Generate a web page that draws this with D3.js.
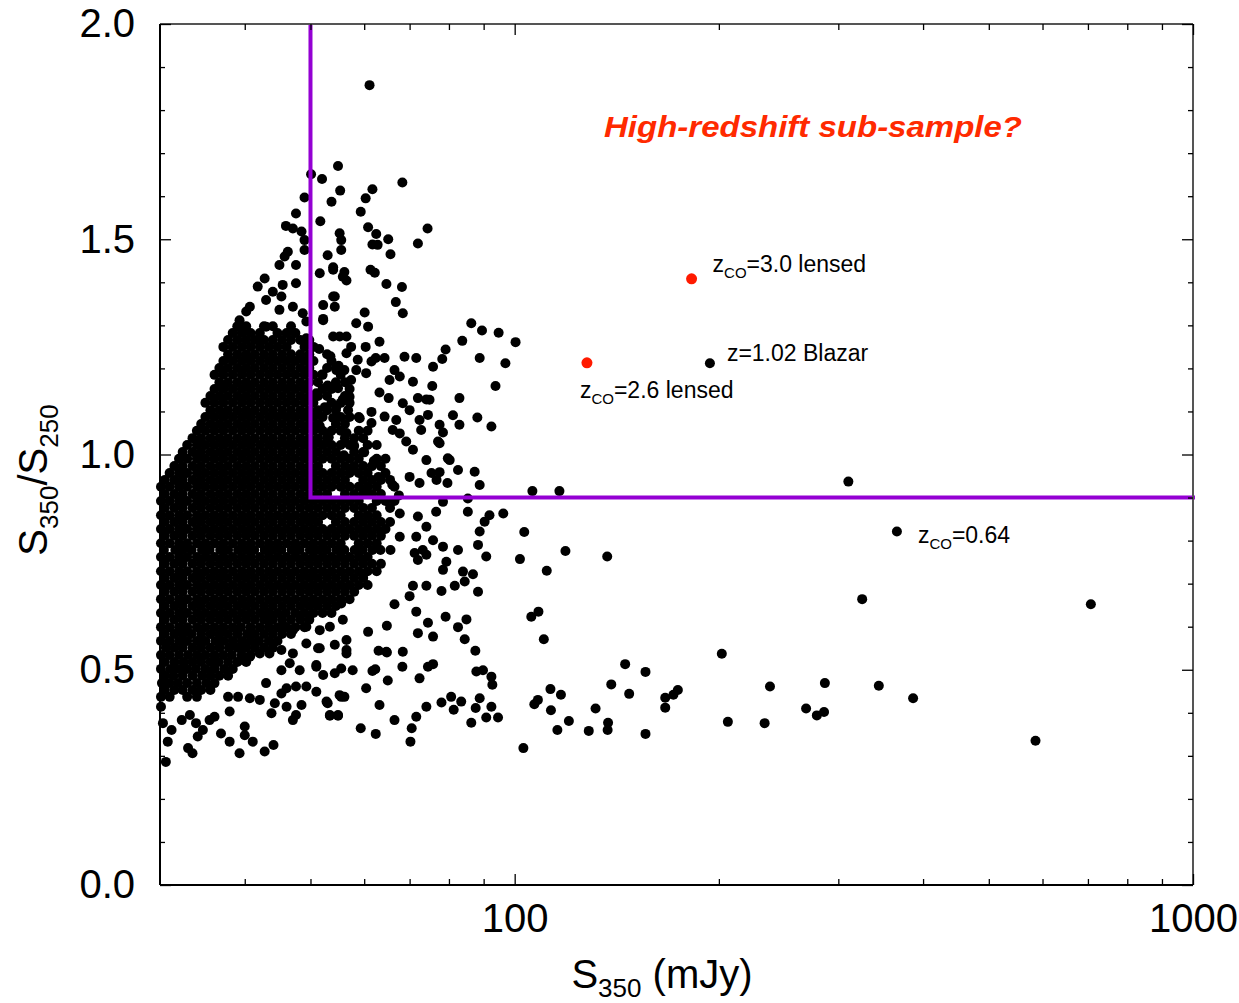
<!DOCTYPE html>
<html>
<head>
<meta charset="utf-8">
<script src="https://cdn.jsdelivr.net/npm/d3@7"></script>
<style>
  html, body { margin: 0; padding: 0; background: #fff; }
  svg { display: block; }
  text { font-family: "Liberation Sans", Arial, Helvetica, sans-serif; }
</style>
</head>
<body>
<svg id="chart" width="1239" height="1003"></svg>
<script>
// ---- axis ranges and ticks ----
const fluxDomain = [30, 1000];
const ratioDomain = [0, 2];
const fluxMajorTicks = [100, 1000];
const fluxMinorTicks = [40, 50, 60, 70, 80, 90, 200, 300, 400, 500, 600, 700, 800, 900];
const ratioMajorTicks = [0, 0.5, 1.0, 1.5, 2.0];
const ratioMinorTicks = [0.1, 0.2, 0.3, 0.4, 0.6, 0.7, 0.8, 0.9, 1.1, 1.2, 1.3, 1.4, 1.6, 1.7, 1.8, 1.9];

// ---- selection box for the red sub-sample ----
const cutFlux = 50;    // S350 > 50 mJy
const cutRatio = 0.9;  // S350/S250 > 0.9

// ---- faint population: S350 values (mJy) grouped by S350/S250 ----
const coreRows = [
  [0.437, [30.1,31.0,32.9,34.0]],
  [0.453, [30.5,31.5,32.4,33.5,34.5,35.6]],
  [0.469, [30.2,31.0,31.9,32.9,34.0,35.1,36.1]],
  [0.486, [30.5,31.4,32.4,33.5,34.6,35.6,36.7,37.8]],
  [0.502, [30.1,31.1,32.0,32.9,33.9,35.0,36.1,37.3,38.4]],
  [0.518, [30.5,31.5,32.5,33.5,34.5,35.6,36.6,37.8,39.0,40.2]],
  [0.534, [30.1,31.0,32.0,33.0,34.0,35.0,36.1,37.2,38.3,39.6,40.8]],
  [0.551, [30.6,31.5,32.4,33.5,34.5,35.6,36.7,37.9,39.0,40.2,41.4,42.7,44.0]],
  [0.567, [30.1,31.0,32.0,32.9,34.0,35.0,36.2,37.2,38.4,39.6,40.8,42.0,43.4,44.7]],
  [0.583, [30.5,31.5,32.4,33.4,34.5,35.6,36.7,37.8,39.0,40.3,41.4,42.7,44.0,45.4,46.8]],
  [0.599, [30.1,31.0,32.0,32.9,34.0,35.0,36.1,37.2,38.4,39.5,40.8,42.1,43.4,44.7,46.1,47.5,49.0]],
  [0.616, [30.5,31.5,32.4,33.5,34.5,35.6,36.7,37.8,39.0,40.2,41.4,42.7,44.0,45.4,46.8,48.3,49.8]],
  [0.632, [30.1,31.0,32.0,32.9,34.0,35.0,36.1,37.2,38.4,39.6,40.8,42.1,43.4,44.7,46.0,47.5,49.0,50.5,52.1,53.7]],
  [0.648, [30.5,31.5,32.4,33.5,34.5,35.6,36.7,37.8,39.0,40.2,41.4,42.7,44.0,45.4,46.8,48.3,49.8,51.3,52.9,54.5]],
  [0.664, [30.1,31.0,32.0,32.9,34.0,35.0,36.1,37.2,38.4,39.6,40.8,42.1,43.4,44.7,46.1,47.5,49.0,50.5,52.1,53.7,55.4,57.1]],
  [0.681, [30.5,31.5,32.4,33.5,34.5,35.6,36.7,37.8,39.0,40.2,41.4,42.7,44.0,45.4,46.8,48.3,49.8,51.3,52.9,54.5,56.2,58.0]],
  [0.697, [30.1,31.0,32.0,32.9,34.0,35.0,36.1,37.2,38.4,39.6,40.8,42.1,43.4,44.7,46.1,47.5,49.0,50.5,52.1,53.7,55.4,57.1,58.9,60.7]],
  [0.713, [30.5,31.5,32.4,33.5,34.5,35.6,36.7,37.8,39.0,40.2,41.4,42.7,44.0,45.4,46.8,48.3,49.8,51.3,52.9,54.5,56.2,58.0,59.8]],
  [0.729, [30.1,31.0,32.0,32.9,34.0,35.0,36.1,37.2,38.4,39.6,40.8,42.1,43.4,44.7,46.1,47.5,49.0,50.5,52.1,53.7,55.4,57.1,58.9,60.7,62.6]],
  [0.746, [30.5,31.5,32.4,33.5,34.5,35.6,36.7,37.8,39.0,40.2,41.4,42.7,44.0,45.4,46.8,48.3,49.8,51.3,52.9,54.5,56.2,58.0,59.8,61.6,63.5]],
  [0.762, [30.1,31.0,32.0,32.9,34.0,35.0,36.1,37.2,38.4,39.6,40.8,42.1,43.4,44.7,46.1,47.5,49.0,50.5,52.1,53.7,55.4,57.1,58.9,60.7]],
  [0.778, [30.4,31.6,32.4,33.4,34.6,35.5,36.8,37.8,39.1,40.2,41.3,42.8,44.0,45.3,46.9,48.2,49.9,51.3,52.8,54.6,56.1,58.1,59.7,61.7,63.4,65.6]],
  [0.794, [30.1,31.0,32.0,32.9,34.0,35.0,36.1,37.2,38.4,39.6,40.8,42.1,43.4,44.7,46.1,47.5,49.0,50.5,52.1,53.7,55.4,58.9,60.7,62.6]],
  [0.811, [30.5,31.5,32.4,33.5,34.5,35.6,36.7,37.8,39.0,40.2,41.4,42.7,44.0,45.4,46.8,48.3,49.8,51.3,52.9,54.5,56.2,58.0,59.8,61.6,63.5]],
  [0.827, [30.1,31.0,32.0,32.9,34.0,35.0,36.1,37.2,38.4,39.6,40.8,42.1,43.4,44.7,46.1,47.5,49.0,50.5,52.1,53.7,55.4,57.1,58.9,60.7,62.6,64.5]],
  [0.843, [30.5,31.5,32.4,33.5,34.5,35.6,36.7,37.8,39.0,40.2,41.4,42.7,44.0,45.4,46.8,48.3,49.8,51.3,54.5,56.2,58.0,59.8,61.6,63.5,65.5]],
  [0.859, [30.1,31.0,32.0,32.9,34.0,35.0,36.1,37.2,38.4,39.6,40.8,42.1,43.4,44.7,46.1,47.5,49.0,50.5,52.1,53.7,55.4,58.9,60.7,62.6]],
  [0.876, [30.5,31.5,32.4,33.5,34.5,35.6,36.7,37.8,39.0,40.2,41.4,42.7,44.0,45.4,46.8,48.3,49.8,51.3,52.9,54.5,56.2,58.0,59.8,61.6,65.5]],
  [0.892, [30.1,31.0,32.0,32.9,34.0,35.0,36.1,37.2,38.4,39.6,40.8,42.1,43.4,44.7,46.1,47.5,49.0,50.5,52.1,53.7,55.4,57.1,58.9,62.6,64.5,66.5]],
  [0.908, [30.5,31.5,32.4,33.5,34.5,35.6,36.7,37.8,39.0,40.2,41.4,42.7,44.0,45.4,46.8,48.3,49.8,51.3,52.9,56.2,58.0,59.8,61.6,63.5]],
  [0.925, [30.1,31.0,32.0,32.9,34.0,35.0,36.1,37.2,38.4,39.6,40.8,42.1,43.4,44.7,46.1,47.5,49.0,50.5,52.1,53.7,55.4,57.1,58.9,60.7,62.6,66.5]],
  [0.941, [30.5,31.5,32.4,33.5,34.5,35.6,36.7,37.8,39.0,40.2,41.4,42.7,44.0,45.4,46.8,48.3,49.8,51.3,52.9,54.5,56.2,59.8,61.6,63.5,65.5]],
  [0.957, [31.0,32.0,32.9,34.0,35.0,36.1,37.2,38.4,39.6,40.8,42.1,43.4,44.7,46.1,47.5,49.0,50.5,52.1,53.7,55.4,57.1,58.9,60.7,64.5]],
  [0.973, [31.5,32.4,33.5,34.5,35.6,36.7,37.8,39.0,40.2,41.4,42.7,44.0,45.4,46.8,48.3,49.8,51.3,54.5,56.2,58.0,59.8,61.6,63.5]],
  [0.990, [32.0,32.9,34.0,35.0,36.1,37.2,38.4,39.6,40.8,42.1,43.4,44.7,46.1,47.5,49.0,50.5,52.1,53.7,55.4,57.1,58.9,62.6,64.5]],
  [1.006, [32.4,33.5,34.5,35.6,36.7,37.8,39.0,40.2,41.4,42.7,44.0,45.4,46.8,48.3,49.8,51.3,52.9,54.5,58.0,59.8]],
  [1.022, [32.9,34.0,35.0,36.1,37.2,38.4,39.6,40.8,42.1,43.4,44.7,46.1,47.5,49.0,50.5,52.1,53.7,55.4,57.1,60.7,62.6]],
  [1.038, [33.5,34.5,35.6,36.7,37.8,39.0,40.2,41.4,42.7,44.0,45.4,46.8,48.3,49.8,51.3,52.9,56.2,58.0,59.8]],
  [1.055, [34.0,35.0,36.1,37.2,38.4,39.6,40.8,42.1,43.4,44.7,46.1,47.5,49.0,50.5,52.1,53.7,55.4,58.9,60.7]],
  [1.071, [34.5,35.6,36.7,37.8,39.0,40.2,41.4,42.7,44.0,45.4,46.8,48.3,49.8,51.3,54.5,56.2]],
  [1.087, [35.0,36.1,37.2,38.4,39.6,40.8,42.1,43.4,44.7,46.1,47.5,49.0,50.5,52.1,55.4,57.1,58.9]],
  [1.103, [35.6,36.7,37.8,39.0,40.2,41.4,42.7,44.0,45.4,46.8,48.3,49.8,51.3,52.9,54.5]],
  [1.120, [35.0,36.1,37.2,38.4,39.6,40.8,42.1,43.4,44.7,46.1,47.5,49.0,50.5,53.7,55.4,57.1]],
  [1.136, [35.6,36.7,37.8,39.0,40.2,41.4,42.7,44.0,45.4,46.8,48.3,49.8,51.3,52.9,56.2]],
  [1.152, [36.1,37.2,38.4,39.6,40.8,42.1,43.4,44.7,46.1,47.5,49.0,52.1,53.7,57.1]],
  [1.168, [36.7,37.8,39.0,40.2,41.4,42.7,44.0,45.4,46.8,48.3,49.8,51.3,54.5,56.2]],
  [1.185, [36.1,37.2,38.4,39.6,40.8,42.1,43.4,44.7,46.1,47.5,49.0,50.5,52.1,55.4]],
  [1.201, [36.7,37.8,39.0,40.2,41.4,42.7,44.0,45.4,46.8,48.3,49.8,52.9,54.5]],
  [1.217, [37.2,38.4,39.6,40.8,42.1,43.4,44.7,46.1,47.5,49.0,50.5,53.7]],
  [1.233, [37.8,39.0,40.2,41.4,42.7,44.0,45.4,46.8,48.3,49.8,52.9]],
  [1.250, [37.2,38.4,39.6,40.8,42.1,43.4,44.7,46.1,49.0,50.5]],
  [1.266, [37.8,39.0,40.2,41.4,42.7,44.0,45.4,46.8,48.3,49.8]],
  [1.282, [38.4,39.6,40.8,42.1,44.7,46.1,47.5]],
  [1.298, [39.0,40.2,42.7,44.0,46.8]]
];

// ---- individual sources around the dense population: [S350 mJy, S350/S250] ----
const outskirtSources = [
  [61.1,1.858],
  [54.9,1.670],[50.1,1.651],[52.0,1.640],[55.3,1.613],[49.0,1.597],[53.7,1.587],[47.6,1.560],[51.7,1.542],
  [46.0,1.531],[47.1,1.525],[48.5,1.518],[49.0,1.498],[55.2,1.514],[55.5,1.475],[53.0,1.463],[46.3,1.471],
  [45.8,1.460],[45.0,1.440],[47.6,1.440],[49.0,1.475],[42.8,1.409],[41.8,1.390],[40.7,1.343],[40.2,1.332],
  [44.0,1.378],[45.5,1.394],[47.6,1.398],[51.6,1.421],[54.0,1.429],[55.8,1.413],[54.3,1.367],[52.2,1.347],
  [52.2,1.312],[45.3,1.367],[47.1,1.343],[48.7,1.328],[43.0,1.359],[45.0,1.336],[39.3,1.312],[39.7,1.289],
  [43.0,1.297],[42.1,1.266],[49.3,1.270],[56.5,1.274],[56.5,1.235],[49.3,1.309],
  [68.3,1.632],[61.7,1.616],[60.3,1.595],[59.3,1.564],[60.8,1.528],[62.5,1.512],[65.1,1.500],[74.4,1.525],
  [72.0,1.490],[55.5,1.498],[61.7,1.488],[62.8,1.487],[65.6,1.465],[54.0,1.435],[56.1,1.424],[56.5,1.404],
  [61.3,1.429],[62.2,1.422],[64.7,1.396],[68.2,1.389],[66.8,1.354],[68.4,1.328],[54.0,1.367],[54.3,1.343],
  [52.2,1.315],[60.1,1.330],[58.4,1.305],[60.8,1.297],[86.3,1.305],[89.5,1.288],[94.7,1.283],[100.3,1.261],
  [83.7,1.264],[79.1,1.244],[78.2,1.222],[88.8,1.224],[96.9,1.212],[93.7,1.159],[82.9,1.131],[88.1,1.086],
  [92.4,1.065],[81.1,1.091],[82.9,1.069],[75.8,1.204],[75.6,1.159],[71.6,1.224],[68.8,1.227],[63.2,1.262],
  [60.3,1.250],[55.2,1.274],[54.0,1.274],[66.5,1.196],[67.7,1.181],[64.3,1.224],[62.4,1.224],[70.8,1.169],
  [72.0,1.131],[74.1,1.128],[74.9,1.127],[74.5,1.092],[77.5,1.069],[78.4,1.051],[77.1,1.030],[79.7,0.991],
  [72.4,1.080],[72.8,1.057],[68.4,1.119],[70.0,1.103],[65.2,1.131],[63.2,1.144],[65.4,1.173],[64.3,1.088],
  [66.9,1.080],[66.1,1.057],[67.7,1.049],[69.2,1.030],[61.5,1.099],[61.5,1.073],[59.1,1.084],[56.8,1.103],
  [54.6,1.111],[57.1,1.134],[54.9,1.154],[57.4,1.173],[54.6,1.196],[56.1,1.196],[60.4,1.189],[58.4,1.196],
  [58.7,1.220],[61.5,1.216],[57.4,1.250],
  [51.5,1.245],[53.5,1.228],[55.0,1.206],[52.0,1.186],[53.0,1.160],[51.0,1.142],[55.8,1.128],[52.5,1.110],
  [54.0,1.085],[51.6,1.066],[56.5,1.050],[53.2,1.040],[58.0,1.020],[51.0,1.030],[56.0,0.998],[60.0,1.005],
  [62.0,0.985],[57.5,0.968],[63.0,0.948],[66.0,0.930],[60.0,0.912],[67.5,0.905],
  [77.5,1.026],[80.2,0.987],[82.5,0.964],[87.3,0.960],[88.8,0.929],[78.4,0.890],[85.3,0.898],[85.3,0.867],
  [91.8,0.859],[90.3,0.844],[88.8,0.821],[88.3,0.790],[78.4,0.786],[82.5,0.778],[90.8,0.763],[79.3,0.751],
  [78.4,0.732],[74.1,0.767],[72.0,0.755],[83.9,0.728],[86.8,0.722],[84.4,0.705],[81.6,0.695],[88.3,0.681],
  [78.0,0.683],[74.1,0.695],[70.8,0.695],[70.0,0.671],[66.5,0.652],[71.6,0.635],[79.1,0.623],[84.9,0.617],
  [82.5,0.599],[84.4,0.571],[87.5,0.544],[74.5,0.609],[72.0,0.585],[75.8,0.577],[64.8,0.602],[68.4,0.542],
  [64.7,0.542],[68.3,0.507],[72.4,0.480],[74.5,0.507],[75.8,0.513],[87.8,0.496],[89.8,0.499],[92.4,0.484],
  [92.7,0.465],[65.0,0.475],[63.2,0.418],[66.5,0.383],[71.6,0.391],[70.5,0.364],[70.2,0.333],[74.1,0.414],
  [78.0,0.424],[80.6,0.437],[83.4,0.426],[81.3,0.407],[88.8,0.434],[87.6,0.411],[92.4,0.414],[90.8,0.389],
  [94.5,0.389],[86.3,0.377],[59.3,0.364],[62.4,0.351],[54.9,0.393],[53.4,0.393],[52.8,0.426],[60.4,0.457],
  [56.1,0.437],[55.2,0.441],[61.7,0.497],[62.3,0.501],[57.7,0.499],[55.5,0.503],[60.8,0.588],[64.8,0.540],
  [63.0,0.544],[56.5,0.546],[51.6,0.550],[51.0,0.511],
  [70.8,1.011],[74.1,0.987],[75.4,0.957],[76.7,0.941],[72.4,0.934],[70.0,0.948],[79.6,0.934],[77.5,0.959],
  [74.1,0.832],[75.8,0.801],[71.6,0.809],[73.2,0.778],[71.2,0.771],[67.7,0.809],[76.6,0.867],[72.0,0.856],
  [67.7,0.863],
  [30.1,0.414],[30.3,0.376],[31.2,0.360],[30.8,0.333],[30.6,0.286],[32.3,0.383],[33.2,0.395],[33.0,0.318],
  [33.5,0.306],[34.1,0.345],[34.7,0.360],[33.9,0.376],[35.5,0.383],[36.1,0.391],[36.9,0.352],[38.0,0.333],
  [39.3,0.306],[40.0,0.368],[40.0,0.348],[41.1,0.333],[42.8,0.310],[44.1,0.325],[38.0,0.403],[37.8,0.437],
  [39.1,0.437],[40.7,0.434],[42.1,0.430],[43.8,0.399],[44.3,0.422],[46.1,0.414],[47.1,0.383],[47.6,0.395],
  [48.5,0.418],[45.3,0.445],[43.0,0.469],[46.1,0.457],[47.6,0.461],[49.3,0.461],[51.0,0.449],[53.0,0.422],
  [53.4,0.395],[54.9,0.395],[55.5,0.437],[52.2,0.488],[54.3,0.492],[51.0,0.507],[48.2,0.499],[46.6,0.515],
  [45.3,0.499],[43.5,0.538],[42.1,0.538],[40.7,0.530],[39.5,0.523],[39.3,0.550],[45.3,0.546],[47.1,0.538],
  [49.3,0.561],[51.3,0.550],[54.3,0.558],[56.5,0.538],[45.8,0.600],[47.1,0.592],[49.3,0.600],[51.6,0.592],
  [53.4,0.600],[56.5,0.569],[55.8,0.616],[43.3,0.631],[43.5,0.616],[51.0,0.654],[55.5,0.654]
];

// ---- bright sources: [S350 mJy, S350/S250] ----
const brightSources = [
  [106.2,0.915],[116.4,0.915],[310.4,0.937],[96.2,0.863],[103.3,0.820],[118.8,0.776],[101.8,0.757],
  [136.9,0.763],[111.5,0.730],[325.3,0.664],[707,0.652],[108.4,0.635],[105.8,0.623],[110.4,0.571],
  [202,0.537],[145.5,0.513],[155.9,0.495],[138.8,0.466],[112.9,0.455],[117,0.442],[147.5,0.444],
  [174,0.453],[171.4,0.442],[166.7,0.435],[166.7,0.412],[108.2,0.430],[106.9,0.420],[113.1,0.406],
  [131.6,0.410],[120.2,0.381],[115.6,0.360],[128.6,0.358],[137.3,0.377],[137.1,0.360],[155.9,0.351],
  [237.9,0.461],[286.6,0.469],[344.2,0.463],[386.7,0.434],[268.9,0.410],[278.9,0.394],[285.8,0.402],
  [206.2,0.379],[233.6,0.376],[585.9,0.335],[103,0.318]
];

// ---- sources with spectroscopic redshifts ----
const lensedFlux = [182.3, 127.8];
const lensedRatio = [1.408, 1.213];
const lensedLabels = ["=3.0 lensed", "=2.6 lensed"];
const notedFlux = [194.0, 366];
const notedRatio = [1.212, 0.821];
const notedLabels = ["z=1.02 Blazar", "=0.64"];
const notedHasCO = [false, true];

const titleText = "High-redshift sub-sample?";

// ---- layout ----
const svg = d3.select("#chart");
const plotLeft = 160, plotRight = 1193, plotTop = 24, plotBottom = 885;

const x = d3.scaleLog().domain(fluxDomain).range([plotLeft, plotRight]);
const y = d3.scaleLinear().domain(ratioDomain).range([plotBottom, plotTop]);

const faint = coreRows.flatMap(([r, fl]) => fl.map(f => [f, r]));
const allBlack = faint.concat(outskirtSources, brightSources, notedFlux.map((f, i) => [f, notedRatio[i]]));

const dotR = 5;
svg.append("g")
  .selectAll("circle")
  .data(allBlack)
  .join("circle")
  .attr("cx", d => x(d[0]))
  .attr("cy", d => y(d[1]))
  .attr("r", dotR)
  .attr("fill", "#000");

// selection lines
const purple = "#9400d3";
svg.append("path")
  .attr("d", `M${x(cutFlux)},${y(ratioDomain[1])} L${x(cutFlux)},${y(cutRatio)} L${x(fluxDomain[1]) + 2},${y(cutRatio)}`)
  .attr("fill", "none")
  .attr("stroke", purple)
  .attr("stroke-width", 4);

// lensed sources in red
svg.append("g")
  .selectAll("circle")
  .data(lensedFlux.map((f, i) => [f, lensedRatio[i]]))
  .join("circle")
  .attr("cx", d => x(d[0]))
  .attr("cy", d => y(d[1]))
  .attr("r", 5.5)
  .attr("fill", "#ff1a00");

// ---- frame and ticks ----
const frame = svg.append("g");
frame.append("line").attr("x1", plotLeft).attr("x2", plotRight).attr("y1", plotTop).attr("y2", plotTop)
  .attr("stroke", "#555").attr("stroke-width", 2);
frame.append("line").attr("x1", plotRight).attr("x2", plotRight).attr("y1", plotTop).attr("y2", plotBottom)
  .attr("stroke", "#555").attr("stroke-width", 2);
frame.append("line").attr("x1", plotLeft).attr("x2", plotLeft).attr("y1", plotTop).attr("y2", plotBottom)
  .attr("stroke", "#000").attr("stroke-width", 2);
frame.append("line").attr("x1", plotLeft).attr("x2", plotRight).attr("y1", plotBottom).attr("y2", plotBottom)
  .attr("stroke", "#000").attr("stroke-width", 2);

function styleAxis(g) {
  g.select(".domain").remove();
  g.selectAll(".tick line").attr("stroke", "#000").attr("stroke-width", 1.3);
  g.attr("font-family", '"Liberation Sans", Arial, Helvetica, sans-serif')
   .attr("font-size", 40);
  g.selectAll(".tick text").attr("fill", "#000");
}

// bottom
svg.append("g").attr("transform", `translate(0,${plotBottom})`)
  .call(d3.axisBottom(x).tickValues(fluxMinorTicks).tickSize(-6).tickFormat(""))
  .call(styleAxis);
svg.append("g").attr("transform", `translate(0,${plotBottom})`)
  .call(d3.axisBottom(x).tickValues(fluxMajorTicks).tickSize(-11).tickPadding(19).tickFormat(d3.format("d")))
  .call(styleAxis);
// top
svg.append("g").attr("transform", `translate(0,${plotTop})`)
  .call(d3.axisTop(x).tickValues(fluxMinorTicks).tickSize(-6).tickFormat(""))
  .call(styleAxis);
svg.append("g").attr("transform", `translate(0,${plotTop})`)
  .call(d3.axisTop(x).tickValues(fluxMajorTicks).tickSize(-11).tickFormat(""))
  .call(styleAxis);
// left
svg.append("g").attr("transform", `translate(${plotLeft},0)`)
  .call(d3.axisLeft(y).tickValues(ratioMinorTicks).tickSize(-5).tickFormat(""))
  .call(styleAxis);
svg.append("g").attr("transform", `translate(${plotLeft},0)`)
  .call(d3.axisLeft(y).tickValues(ratioMajorTicks).tickSize(-11).tickPadding(25).tickFormat(d3.format(".1f")))
  .call(styleAxis);
// right
svg.append("g").attr("transform", `translate(${plotRight},0)`)
  .call(d3.axisRight(y).tickValues(ratioMinorTicks).tickSize(-5).tickFormat(""))
  .call(styleAxis);
svg.append("g").attr("transform", `translate(${plotRight},0)`)
  .call(d3.axisRight(y).tickValues(ratioMajorTicks).tickSize(-11).tickFormat(""))
  .call(styleAxis);

// ---- axis titles ----
const xt = svg.append("text")
  .attr("x", 662).attr("y", 988)
  .attr("text-anchor", "middle")
  .attr("font-size", 40).attr("fill", "#000");
xt.append("tspan").text("S");
xt.append("tspan").attr("font-size", 26).attr("dy", 9).text("350");
xt.append("tspan").attr("dy", -9).text(" (mJy)");

const yt = svg.append("text")
  .attr("transform", "translate(47,480) rotate(-90)")
  .attr("text-anchor", "middle")
  .attr("font-size", 40).attr("fill", "#000");
yt.append("tspan").text("S");
yt.append("tspan").attr("font-size", 26).attr("dy", 11).text("350");
yt.append("tspan").attr("dy", -11).text("/S");
yt.append("tspan").attr("font-size", 26).attr("dy", 11).text("250");

// ---- annotations ----
function zLabel(px, py, rest, withCO) {
  const t = svg.append("text").attr("x", px).attr("y", py)
    .attr("font-size", 23).attr("fill", "#000");
  if (withCO) {
    t.append("tspan").text("z");
    t.append("tspan").attr("font-size", 15).attr("dy", 6).text("CO");
    t.append("tspan").attr("dy", -6).text(rest);
  } else {
    t.append("tspan").text(rest);
  }
}
const lensedOffsets = [[21, -7], [-7, 35]];
lensedFlux.forEach((f, i) => {
  zLabel(x(f) + lensedOffsets[i][0], y(lensedRatio[i]) + lensedOffsets[i][1], lensedLabels[i], true);
});
const notedOffsets = [[17, -2], [21, 11]];
notedFlux.forEach((f, i) => {
  zLabel(x(f) + notedOffsets[i][0], y(notedRatio[i]) + notedOffsets[i][1], notedLabels[i], notedHasCO[i]);
});

svg.append("text")
  .attr("x", 604).attr("y", 137)
  .attr("font-family", "Lato, 'Open Sans', sans-serif")
  .attr("font-size", 30)
  .attr("font-weight", "bold")
  .attr("font-style", "italic")
  .attr("fill", "#ff2a00")
  .attr("textLength", 418)
  .attr("lengthAdjust", "spacingAndGlyphs")
  .text(titleText);
</script>
</body>
</html>
